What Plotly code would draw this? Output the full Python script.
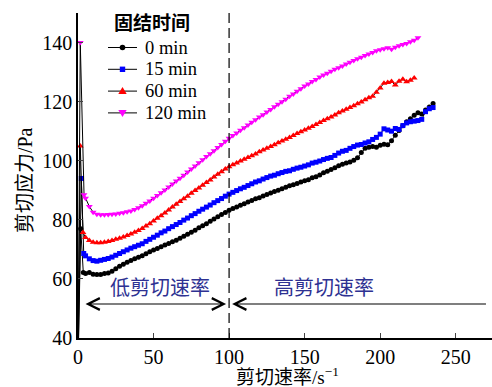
import plotly.graph_objects as go

# ---------------- data ----------------
GRID_X = [5, 7.5, 10, 12.5, 15, 17.5, 20, 22.5, 25, 27.5,
          30, 32.5, 35, 37.5, 40, 42.5, 45, 47.5, 50, 52.5,
          55, 57.5, 60, 62.5, 65, 67.5, 70, 72.5, 75, 77.5,
          80, 82.5, 85, 87.5, 90, 92.5, 95, 97.5, 100, 102.5,
          105, 107.5, 110, 112.5, 115, 117.5, 120, 122.5, 125, 127.5,
          130, 132.5, 135, 137.5, 140, 142.5, 145, 147.5, 150, 152.5,
          155, 157.5, 160, 162.5, 165, 167.5, 170, 172.5, 175, 177.5,
          180, 182.5, 185, 187.5, 190, 192.5, 195, 197.5, 200, 202.5,
          205, 207.5, 210, 212.5, 215, 217.5, 220, 222.5, 225, 227.5,
          230, 232.5, 235]

head_x_0 = [0, 1.8, 3.5]
head_y_0 = [30, 77, 62.2]
y_0min = [61.8, 62.2, 61.6, 61.5, 61.5, 61.8, 62.0, 62.6, 63.4, 64.3,
          65.0, 65.6, 66.2, 66.8, 67.3, 67.8, 68.5, 69.2, 69.8, 70.3,
          70.9, 71.5, 72.0, 72.6, 73.1, 73.8, 74.4, 75.1, 75.8, 76.5,
          77.3, 78.0, 78.7, 79.5, 80.3, 81.0, 81.8, 82.5, 83.2, 83.8,
          84.3, 84.9, 85.4, 86.0, 86.5, 87.1, 87.5, 88.1, 88.6, 89.1,
          89.6, 90.0, 90.5, 91.0, 91.5, 91.9, 92.3, 92.8, 93.2, 93.6,
          94.2, 94.6, 95.2, 95.9, 96.4, 97.0, 97.6, 98.3, 98.8, 99.2,
          99.6, 100.2, 101.0, 102.8, 104.2, 104.6, 104.8, 104.6, 105.2, 105.6,
          105.4, 106.8, 108.6, 110.2, 111.8, 113.2, 114.2, 115.4, 116.2, 115.8,
          117.2, 118.2, 119.4]

head_x_15 = [0, 2.2, 3.8]
head_y_15 = [30, 94, 68.6]
y_15min = [67.8, 66.8, 66.2, 66.0, 66.3, 66.6, 66.9, 67.4, 68.0, 68.6,
           69.2, 69.8, 70.4, 70.9, 71.4, 71.9, 72.7, 73.4, 74.1, 74.8,
           75.6, 76.2, 77.0, 77.7, 78.4, 79.1, 79.9, 80.6, 81.4, 82.1,
           82.9, 83.6, 84.3, 85.0, 85.8, 86.5, 87.2, 88.0, 88.7, 89.3,
           89.9, 90.5, 91.0, 91.6, 92.2, 92.8, 93.2, 93.8, 94.3, 94.8,
           95.1, 95.6, 96.0, 96.4, 96.6, 97.1, 97.5, 97.8, 98.2, 98.6,
           99.2, 99.5, 99.9, 100.4, 100.8, 101.1, 101.8, 102.6, 103.2, 103.5,
           104.2, 104.8, 105.3, 105.5, 106.0, 106.4, 107.2, 107.9, 109.0, 110.8,
           110.4, 110.0, 110.9, 110.6, 111.9, 112.8, 113.2, 113.4, 113.6, 114.0,
           116.6, 117.6, 118.0]

head_x_60 = [0, 1.5, 3.3]
head_y_60 = [30, 105, 75.7]
y_60min = [74.0, 73.0, 72.4, 72.2, 72.2, 72.4, 72.7, 73.0, 73.4, 73.8,
           74.2, 74.7, 75.2, 75.8, 76.4, 77.1, 77.9, 78.7, 79.6, 80.5,
           81.4, 82.3, 83.3, 84.3, 85.3, 86.2, 87.1, 88.0, 89.0, 89.9,
           90.8, 91.7, 92.6, 93.5, 94.5, 95.4, 96.3, 97.2, 98.0, 98.6,
           99.2, 99.9, 100.5, 101.1, 101.7, 102.3, 103.0, 103.6, 104.2, 104.8,
           105.4, 106.1, 106.7, 107.3, 107.9, 108.5, 109.2, 109.8, 110.4, 111.0,
           111.6, 112.3, 112.9, 113.6, 114.2, 114.8, 115.5, 116.2, 116.8, 117.4,
           118.0, 118.6, 119.3, 119.9, 120.6, 121.3, 121.8, 123.2, 124.6, 126.2,
           126.5, 126.8, 125.6, 126.9, 127.6, 126.7, 127.2, 128.0]

head_x_120 = [0, 1.5, 4.0]
head_y_120 = [30, 140, 88.5]
y_120min = [87.3, 84.5, 82.6, 81.9, 81.7, 81.7, 81.8, 81.9, 82.0, 82.2,
            82.4, 82.7, 83.0, 83.5, 84.1, 84.8, 85.6, 86.4, 87.3, 88.2,
            89.2, 90.1, 91.1, 92.1, 93.1, 94.1, 95.1, 96.2, 97.2, 98.2,
            99.3, 100.3, 101.4, 102.4, 103.4, 104.5, 105.5, 106.6, 107.6, 108.5,
            109.4, 110.3, 111.2, 112.1, 113.0, 113.9, 114.8, 115.6, 116.5, 117.3,
            118.3, 119.1, 120.0, 120.8, 121.8, 122.6, 123.5, 124.4, 125.3, 126.0,
            126.8, 127.5, 128.3, 129.0, 129.6, 130.3, 131.0, 131.5, 132.1, 132.7,
            133.3, 133.9, 134.5, 135.0, 135.6, 136.1, 136.6, 137.2, 137.6, 137.9,
            138.2, 137.7, 138.4, 138.9, 139.3, 139.7, 140.3, 140.8, 141.6]

series_names = ["0 min", "15 min", "60 min", "120 min"]
series_colors = ["#000000", "#0000ff", "#ff0000", "#ff00ff"]
series_symbols = ["circle", "square", "triangle-up", "triangle-down"]
series_sizes = [5, 5, 6, 6]
legend_title = "固结时间"

y_ticks = [40, 60, 80, 100, 120, 140]
x_ticks = [0, 50, 100, 150, 200, 250]

FONT = "Liberation Serif, Times New Roman, Noto Sans CJK SC, serif"
CJK = "Noto Sans CJK SC, Liberation Serif, serif"

# plot-area geometry (pixels) used for the hand-built legend
W, H = 492, 387
ML, MR, MT, MB = 78, 0, 13, 49
PW, PH = W - ML - MR, H - MT - MB


def px2paper(px, py):
    return (px - ML) / PW, (H - MB - py) / PH


heads_x = [head_x_0, head_x_15, head_x_60, head_x_120]
heads_y = [head_y_0, head_y_15, head_y_60, head_y_120]
bodies = [y_0min, y_15min, y_60min, y_120min]

fig = go.Figure()
for name, col, sym, sz, hx, hy, body in zip(series_names, series_colors, series_symbols,
                                             series_sizes, heads_x, heads_y, bodies):
    xs = hx + GRID_X[:len(body)]
    ys = hy + body
    fig.add_trace(go.Scatter(
        x=xs, y=ys, mode="lines+markers", name=name, showlegend=False,
        line=dict(color="black", width=1),
        marker=dict(color=col, symbol=sym, size=sz, line=dict(width=0)),
    ))

# dashed separator at shear rate 100
fig.add_shape(type="line", x0=100, x1=100, y0=40, y1=150, xref="x", yref="y",
              line=dict(color="black", width=1.2, dash="10px,5px"))

# arrows
fig.add_annotation(x=98, y=51.5, ax=4, ay=51.5, xref="x", yref="y", axref="x", ayref="y",
                   text="", showarrow=True, arrowhead=5, startarrowhead=5,
                   arrowside="end+start", arrowsize=2.1, startarrowsize=2.1,
                   arrowwidth=1.1, arrowcolor="black")
fig.add_annotation(x=102, y=51.5, ax=271, ay=51.5, xref="x", yref="y", axref="x", ayref="y",
                   text="", showarrow=True, arrowhead=5, arrowsize=2.1,
                   arrowwidth=1.1, arrowcolor="black")

fig.add_annotation(x=54, y=57.3, xref="x", yref="y", text="低剪切速率", showarrow=False,
                   font=dict(family=CJK, size=20, color="#2e3192"))
fig.add_annotation(x=163, y=57.3, xref="x", yref="y", text="高剪切速率", showarrow=False,
                   font=dict(family=CJK, size=20, color="#2e3192"))

# axis titles
fig.add_annotation(x=-0.128, y=0.486, xref="paper", yref="paper", text="剪切应力/Pa",
                   xanchor="center", yanchor="middle",
                   textangle=-90, showarrow=False, font=dict(family=FONT, size=20, color="black"))
fig.add_annotation(x=0.505, y=-0.118, xref="paper", yref="paper", text="剪切速率/s<sup>−1</sup>",
                   xanchor="center", yanchor="middle",
                   showarrow=False, font=dict(family=FONT, size=19, color="black"))

# ---- legend (built by hand to match the reference's compact spacing) ----
tx, ty = px2paper(112, 21.5)
fig.add_annotation(x=tx, y=ty, xref="paper", yref="paper", text="<b>" + legend_title + "</b>",
                   xanchor="left", yanchor="middle", showarrow=False,
                   font=dict(family=CJK, size=19, color="black"))
legend_rows_py = [47.5, 69.3, 91.1, 112.9]
for name, col, sym, py in zip(series_names, series_colors, series_symbols, legend_rows_py):
    x0, yy = px2paper(108, py)
    x1, _ = px2paper(137, py)
    fig.add_shape(type="line", x0=x0, x1=x1, y0=yy, y1=yy, xref="paper", yref="paper",
                  line=dict(color="black", width=1))
    cx = 122.5
    if sym == "circle":
        a, b = px2paper(cx - 2.8, py + 2.8)
        c, d = px2paper(cx + 2.8, py - 2.8)
        fig.add_shape(type="circle", x0=a, y0=b, x1=c, y1=d, xref="paper", yref="paper",
                      fillcolor=col, line=dict(width=0))
    elif sym == "square":
        a, b = px2paper(cx - 2.7, py + 2.7)
        c, d = px2paper(cx + 2.7, py - 2.7)
        fig.add_shape(type="rect", x0=a, y0=b, x1=c, y1=d, xref="paper", yref="paper",
                      fillcolor=col, line=dict(width=0))
    else:
        # in pixel space the apex of an up-triangle sits above (smaller py)
        s = 1 if sym == "triangle-up" else -1
        pts = [px2paper(cx, py - s * 4.2), px2paper(cx - 4.2, py + s * 3.0),
               px2paper(cx + 4.2, py + s * 3.0)]
        path = "M {} {} L {} {} L {} {} Z".format(pts[0][0], pts[0][1], pts[1][0], pts[1][1],
                                                   pts[2][0], pts[2][1])
        fig.add_shape(type="path", path=path, xref="paper", yref="paper",
                      fillcolor=col, line=dict(width=0))
    lx, ly = px2paper(143, py)
    fig.add_annotation(x=lx, y=ly, xref="paper", yref="paper", text=name,
                       xanchor="left", yanchor="middle", showarrow=False,
                       font=dict(family=FONT, size=18.5, color="black"))

fig.update_xaxes(range=[0, 274], tickvals=x_ticks, ticks="inside", ticklen=5, tickwidth=1.2,
                 showline=True, linecolor="black", linewidth=1.5, showgrid=False, zeroline=False,
                 tickfont=dict(family=FONT, size=20, color="black"))
fig.update_yaxes(range=[40, 150], tickvals=y_ticks + [150], ticktext=[str(v) for v in y_ticks] + [""],
                 ticks="inside", ticklen=5, tickwidth=1.2,
                 showline=True, linecolor="black", linewidth=1.5, showgrid=False, zeroline=False,
                 tickfont=dict(family=FONT, size=20, color="black"))

fig.update_layout(
    width=W, height=H,
    margin=dict(l=ML, r=MR, t=MT, b=MB),
    paper_bgcolor="white", plot_bgcolor="white",
    showlegend=False,
)

fig.write_html("out.html")
